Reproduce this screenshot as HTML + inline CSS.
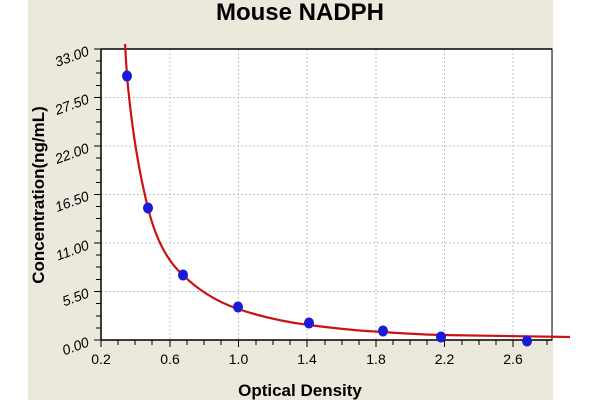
<!DOCTYPE html>
<html><head><meta charset="utf-8"><style>
html,body{margin:0;padding:0;background:#fff;}
svg{display:block;font-family:"Liberation Sans",Arial,sans-serif;}
</style></head><body>
<svg width="600" height="400" viewBox="0 0 600 400">
<rect x="28" y="0" width="525" height="400" fill="#ebe8dc"/>
<rect x="101" y="49" width="451" height="291" fill="#fff"/>
<g stroke="#c4c4c4" stroke-dasharray="2,2" stroke-width="1">
<line x1="170" y1="49" x2="170" y2="340"/><line x1="238.5" y1="49" x2="238.5" y2="340"/>
<line x1="307" y1="49" x2="307" y2="340"/><line x1="376" y1="49" x2="376" y2="340"/>
<line x1="444.5" y1="49" x2="444.5" y2="340"/><line x1="513" y1="49" x2="513" y2="340"/>
<line x1="101" y1="291.5" x2="552" y2="291.5"/><line x1="101" y1="243" x2="552" y2="243"/>
<line x1="101" y1="194.5" x2="552" y2="194.5"/><line x1="101" y1="146" x2="552" y2="146"/>
<line x1="101" y1="97.5" x2="552" y2="97.5"/>
</g>
<g stroke="#000" stroke-width="1.3" fill="none">
<polyline points="101,49 552,49 552,340 101,340 101,49" stroke-width="1"/>
<line x1="101" y1="49" x2="552" y2="49" stroke-width="1.5"/>
<line x1="101" y1="340" x2="552" y2="340" stroke-width="1.5"/>
<line x1="101" y1="49" x2="101" y2="340" stroke-width="1.5"/>
</g>
<g stroke="#000" stroke-width="1">
<path d="M101,340v7M118,340v5M135,340v5M152,340v5M170,340v7M187,340v5M204,340v5M221,340v5M238.5,340v7M256,340v5M273,340v5M290,340v5M307,340v7M325,340v5M342,340v5M359,340v5M376,340v7M393,340v5M410,340v5M427,340v5M444.5,340v7M462,340v5M479,340v5M496,340v5M513,340v7M530,340v5M547,340v5"/>
<path d="M101,340h-7M101,328h-5M101,316h-5M101,303.5h-5M101,291.5h-7M101,279.5h-5M101,267h-5M101,255h-5M101,243h-7M101,231h-5M101,218.5h-5M101,206.5h-5M101,194.5h-7M101,182.5h-5M101,170h-5M101,158h-5M101,146h-7M101,134h-5M101,122h-5M101,109.5h-5M101,97.5h-7M101,85.5h-5M101,73h-5M101,61h-5M101,49h-7"/>
</g>
<path d="M125,44 L127,76 C130,110 136,160 148,208 C156,240 168,262 183,275 C200,292 218,302 238,309 C262,317 285,322 309,325 C340,329 360,331 383,332 C410,334 425,334.5 441,335 C480,336 520,336.5 570,337" stroke="#cc1111" stroke-width="2.2" fill="none"/>
<g fill="#1a1ad8">
<ellipse cx="127" cy="76" rx="5" ry="5.5"/><ellipse cx="148" cy="208" rx="5" ry="5.5"/>
<ellipse cx="183" cy="275" rx="5" ry="5.5"/><ellipse cx="238" cy="307" rx="5" ry="5.5"/>
<ellipse cx="309" cy="323" rx="5" ry="5.5"/><ellipse cx="383" cy="331" rx="5" ry="5.5"/>
<ellipse cx="441" cy="337" rx="5" ry="5.5"/><ellipse cx="527" cy="341" rx="5" ry="5.5"/>
</g>
<text x="300" y="20" text-anchor="middle" font-size="24" font-weight="bold">Mouse NADPH</text>
<text x="300" y="396" text-anchor="middle" font-size="17" font-weight="bold">Optical Density</text>
<text transform="translate(44,195) rotate(-90)" text-anchor="middle" font-size="17" font-weight="bold">Concentration(ng/mL)</text>
<g font-size="14" text-anchor="middle">
<text x="101" y="364">0.2</text><text x="170" y="364">0.6</text><text x="238.5" y="364">1.0</text>
<text x="307" y="364">1.4</text><text x="376" y="364">1.8</text><text x="444.5" y="364">2.2</text><text x="513" y="364">2.6</text>
</g>
<g font-size="14" font-style="italic" text-anchor="end">
<text transform="translate(90,346) rotate(-20)">0.00</text>
<text transform="translate(90,297) rotate(-20)">5.50</text>
<text transform="translate(90,249) rotate(-20)">11.00</text>
<text transform="translate(90,200) rotate(-20)">16.50</text>
<text transform="translate(90,152) rotate(-20)">22.00</text>
<text transform="translate(90,103) rotate(-20)">27.50</text>
<text transform="translate(90,55) rotate(-20)">33.00</text>
</g>
</svg>
</body></html>
